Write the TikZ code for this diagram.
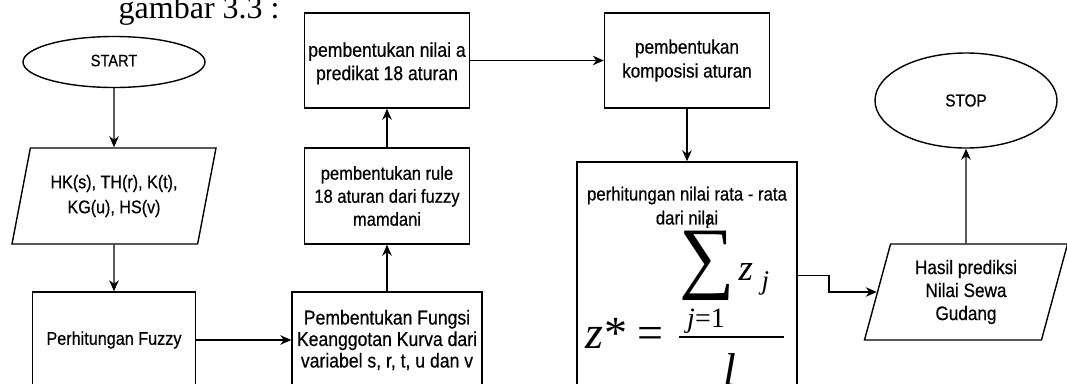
\documentclass[tikz,border=0pt]{standalone}
\usepackage{fontspec}
\newfontfamily\flow{Liberation Sans}[FakeStretch=0.88,FakeBold=0.5]
\newfontfamily\tms{Liberation Serif}
\usetikzlibrary{shapes.geometric,arrows.meta}
\newcommand\fsz[2]{\fontsize{#1}{#2}\selectfont}

\begin{document}
\begin{tikzpicture}[x=1pt,y=-1pt,line width=1.4pt,
  arr/.style={-{Stealth[length=11pt,width=9.5pt,inset=3.5pt]}},
  box/.style={draw,rectangle,inner sep=0pt,align=center},
  term/.style={draw,ellipse,inner sep=0pt},
  io/.style={draw,trapezium,trapezium left angle=#1,trapezium right angle={180-#1},
    trapezium stretches body,inner sep=0pt,align=center},
  eqn/.style={inner sep=0pt}]

\fill[white] (0,0) rectangle (1067,383);
\useasboundingbox (0,0) rectangle (1067,383);
\clip (0,0) rectangle (1067,383);

% caption line above the chart
\node[eqn,anchor=base west,font=\tms\fsz{32}{32}] (title) at (118,18) {gambar 3.3 :};

% flowchart blocks
\node[term,minimum width=182pt,minimum height=51pt,font=\flow\fsz{16.6}{20}] (start) at (114,62)
  {\raisebox{3pt}{START}};
\node[io=66.4,minimum width=204pt,minimum height=96pt,font=\flow\fsz{18.3}{25}] (in1) at (114,196)
  {HK(s), TH(r), K(t),\\KG(u), HS(v)};
\node[box,minimum width=163pt,minimum height=96pt,font=\flow\fsz{18.4}{22}] (fuzzy) at (114,340)
  {Perhitungan Fuzzy};
\node[box,minimum width=190pt,minimum height=96pt,font=\flow\fsz{20}{21.5}] (fungsi) at (387,340)
  {Pembentukan Fungsi\\Keanggotan Kurva dari\\variabel s, r, t, u dan v};
\node[box,minimum width=165pt,minimum height=96pt,font=\flow\fsz{18.8}{23}] (rule) at (387,196)
  {pembentukan rule\\18 aturan dari fuzzy\\mamdani};
\node[box,minimum width=165pt,minimum height=95pt,font=\flow\fsz{20}{23.3}] (nilaia) at (387,60.5)
  {\rule{0pt}{20pt}pembentukan nilai a\\predikat 18 aturan};
\node[box,minimum width=165pt,minimum height=95pt,font=\flow\fsz{19.5}{24}] (kompos) at (687,60.5)
  {pembentukan\\komposisi aturan};
\node[box,minimum width=220pt,minimum height=227pt] (hitung) at (687,275.5) {};
\node[eqn,anchor=north,align=center,font=\flow\fsz{19}{24}] (hitunglbl) at (687,186)
  {perhitungan nilai rata - rata\\dari nilai};
\node[io=67.9,minimum width=203pt,minimum height=96pt,font=\flow\fsz{19.5}{23}] (hasil) at (966,292)
  {Hasil prediksi\\Nilai Sewa\\Gudang};
\node[term,minimum width=182pt,minimum height=95pt,font=\flow\fsz{17.4}{20}] (stop) at (966,100.5) {STOP};

% centroid formula inside the averaging block
\node[eqn,anchor=base west,font=\tms\fsz{46}{46}] (zstar) at (585,348) {\itshape z\upshape\kern1pt*};
\node[eqn,anchor=base west,font=\tms\fsz{46}{46}] (equals) at (637,348) {=};
\draw[line width=1.4pt] (679,337) -- (784,337);
\node[eqn,xscale=0.97,font=\tms\fsz{80}{80}] (sigma) at (707,266) {\char"2211};
\node[eqn,anchor=base,font=\tms\itshape\fsz{19}{19}] (uplim) at (708,228) {l};
\node[eqn,anchor=base west,font=\tms\itshape\fsz{37}{37}] (znum) at (738,280) {z};
\node[eqn,anchor=base west,font=\tms\itshape\fsz{27}{27}] (zsub) at (761,289) {j};
\node[eqn,anchor=base,font=\tms\fsz{28}{28}] (lowlim) at (706,327) {{\itshape j}=1};
\node[eqn,anchor=base,font=\tms\itshape\fsz{46}{46}] (denom) at (730,385) {l};

% connectors
\draw[arr] (start.south) -- (in1.north);
\draw[arr] (in1.south) -- (fuzzy.north);
\draw[arr] (fuzzy.east) -- (fungsi.west);
\draw[arr] (fungsi.north) -- (rule.south);
\draw[arr] (rule.north) -- (nilaia.south);
\draw[arr] (nilaia.east) -- (kompos.west);
\draw[arr] (kompos.south) -- (hitung.north);
\coordinate (bend) at (829,275.5);
\draw[arr] (hitung.east) -- (bend) |- (hasil.left side);
\draw[arr] (hasil.north) -- (stop.south);
\end{tikzpicture}
\end{document}
